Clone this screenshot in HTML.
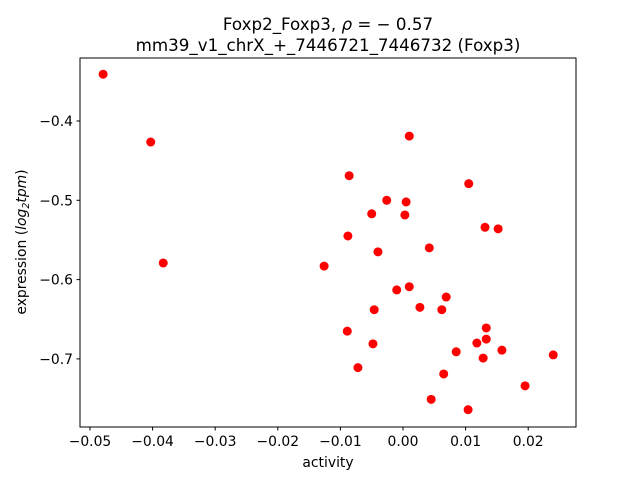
<!DOCTYPE html>
<html><head><meta charset="utf-8"><style>
body{margin:0;background:#fff}
svg{display:block;font-family:"DejaVu Sans","Liberation Sans",sans-serif}
</style></head><body>
<svg id="chart" width="640" height="480">
<rect width="640" height="480" fill="#fff"/>
<text x="328" y="30" text-anchor="middle" font-size="16.7">Foxp2_Foxp3, <tspan font-style="italic">ρ</tspan> = − 0.57</text>
<text x="328" y="51" text-anchor="middle" font-size="16.7">mm39_v1_chrX_+_7446721_7446732 (Foxp3)</text>
<g id="ticks"></g>
<g id="points"></g>
<rect x="80" y="58" width="496" height="369" fill="none" stroke="#000" stroke-width="1"/>
<text x="328" y="467" text-anchor="middle" font-size="13.9">activity</text>
<text transform="translate(26,242) rotate(-90)" text-anchor="middle" font-size="13.9">expression (<tspan font-style="italic">log</tspan><tspan font-size="9.5" dy="3" font-style="italic">2</tspan><tspan dy="-3" font-style="italic">tpm</tspan>)</text>
</svg>
<script>
const activity=[-0.0479,-0.0403,-0.0383,-0.0126,-0.0086,-0.0088,-0.0089,-0.0072,-0.0050,-0.0046,-0.0048,-0.0040,-0.0026,-0.0010,0.0003,0.0005,0.0010,0.0010,0.0027,0.0042,0.0045,0.0062,0.0069,0.0065,0.0085,0.0104,0.0105,0.0118,0.0128,0.0131,0.0133,0.0133,0.0152,0.0158,0.0195,0.0240];
const expression=[-0.341,-0.4265,-0.579,-0.583,-0.469,-0.545,-0.665,-0.711,-0.517,-0.638,-0.681,-0.565,-0.500,-0.613,-0.5185,-0.502,-0.419,-0.609,-0.635,-0.560,-0.751,-0.638,-0.622,-0.719,-0.691,-0.764,-0.479,-0.680,-0.699,-0.534,-0.675,-0.661,-0.536,-0.689,-0.734,-0.695];
const xTicks=[-0.05,-0.04,-0.03,-0.02,-0.01,0.00,0.01,0.02];
const xTickLabels=["−0.05","−0.04","−0.03","−0.02","−0.01","0.00","0.01","0.02"];
const yTicks=[-0.4,-0.5,-0.6,-0.7];
const yTickLabels=["−0.4","−0.5","−0.6","−0.7"];
const NS="http://www.w3.org/2000/svg";
const X=v=>403+v*6260;
const Y=v=>121+(-0.4-v)*793;
const tg=document.getElementById('ticks');
function mk(t,a,p){const e=document.createElementNS(NS,t);for(const k in a)e.setAttribute(k,a[k]);p.appendChild(e);return e;}
xTicks.forEach((v,i)=>{
  const l=mk('line',{x1:X(v),x2:X(v),y1:427,y2:430.5,stroke:'#000'},tg);
  
  
  const t=mk('text',{x:X(v),y:446,'text-anchor':'middle','font-size':13.9},tg);
  t.textContent=xTickLabels[i];
  
  
});
yTicks.forEach((v,i)=>{
  const l=mk('line',{x1:76.5,x2:80,y1:Y(v),y2:Y(v),stroke:'#000'},tg);
  
  
  const t=mk('text',{x:73,y:Y(v)+5,'text-anchor':'end','font-size':13.9},tg);
  t.textContent=yTickLabels[i];
  
  
});
const pg=document.getElementById('points');
activity.forEach((a,i)=>{
  const c=mk('circle',{cx:X(a),cy:Y(expression[i]),r:4.5,fill:'#ff0000'},pg);
  
  
});
</script>
</body></html>
